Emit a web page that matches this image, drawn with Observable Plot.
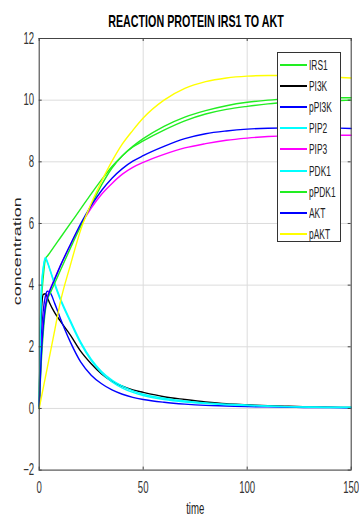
<!DOCTYPE html>
<html>
<head>
<meta charset="utf-8">
<script src="https://cdn.jsdelivr.net/npm/d3@7"></script>
<script src="https://cdn.jsdelivr.net/npm/@observablehq/plot@0.6"></script>
<style>
  html, body { margin: 0; padding: 0; background: #fff; }
  #wrap { position: relative; width: 359px; height: 518px; overflow: hidden; font-family: "Liberation Sans", Arial, sans-serif; }
  #title { position: absolute; left: 0; width: 392px; top: 13px; text-align: center; font-weight: bold; font-size: 17px; line-height: 17px; color: #000; transform: scaleX(0.63); transform-origin: 196px 0; white-space: nowrap; }
  #legend { position: absolute; left: 277px; top: 52px; width: 64px; height: 190px; background: #fff; border: 1px solid #333; box-sizing: border-box; }
  .item { position: absolute; left: 0; height: 14px; width: 62px; }
  .item .sw { position: absolute; left: 2px; top: 6px; width: 27px; height: 2px; }
  .item .lb { position: absolute; left: 31px; top: 0px; font-size: 14px; line-height: 14px; color: #222; transform: scaleX(0.6); transform-origin: 0 0; white-space: nowrap; }
</style>
</head>
<body>
<div id="wrap"><div id="chart"></div><div id="title">REACTION PROTEIN IRS1 TO AKT</div><div id="legend"></div></div>
<script>
const seriesNames = ["IRS1", "PI3K", "pPI3K", "PIP2", "PIP3", "PDK1", "pPDK1", "AKT", "pAKT"];
const seriesColors = ["#22ee22", "#000000", "#0000ff", "#00ffff", "#ff00ff", "#00ffff", "#22ee22", "#0000ff", "#ffff00"];
const time = [0, 0.5, 1, 2, 3, 4, 5, 7.5, 10, 15, 20, 25, 30, 35, 40, 45, 50, 60, 70, 80, 90, 100, 110, 120, 130, 140, 150];
const IRS1  = [0, 2.5, 3.4, 4.3, 4.85, 4.95, 5.04, 5.28, 5.52, 6.0, 6.48, 6.96, 7.42, 7.85, 8.2, 8.5, 8.75, 9.15, 9.45, 9.66, 9.82, 9.93, 10.0, 10.04, 10.06, 10.08, 10.08];
const PI3K  = [0, 2.2, 3.1, 3.7, 3.72, 3.58, 3.42, 3.1, 2.85, 2.38, 1.85, 1.45, 1.12, 0.88, 0.72, 0.6, 0.52, 0.38, 0.29, 0.21, 0.15, 0.12, 0.09, 0.07, 0.05, 0.04, 0.03];
const pPI3K = [0, 1.2, 2.2, 3.2, 3.65, 3.8, 3.78, 3.4, 2.95, 2.15, 1.5, 1.08, 0.8, 0.6, 0.46, 0.36, 0.29, 0.2, 0.14, 0.1, 0.08, 0.06, 0.05, 0.04, 0.03, 0.03, 0.02];
const PIP2  = [0, 2.5, 3.8, 4.6, 4.9, 4.75, 4.55, 4.05, 3.6, 2.85, 2.15, 1.6, 1.2, 0.92, 0.72, 0.57, 0.46, 0.33, 0.24, 0.18, 0.14, 0.11, 0.08, 0.06, 0.05, 0.04, 0.04];
const PIP3  = [0, 1.0, 1.8, 2.8, 3.35, 3.65, 3.82, 4.22, 4.6, 5.3, 5.95, 6.5, 6.95, 7.3, 7.6, 7.82, 7.98, 8.24, 8.45, 8.59, 8.7, 8.77, 8.82, 8.85, 8.86, 8.86, 8.86];
const PDK1  = [0, 2.4, 3.7, 4.55, 4.85, 4.72, 4.52, 4.0, 3.55, 2.8, 2.1, 1.55, 1.15, 0.86, 0.66, 0.52, 0.42, 0.29, 0.21, 0.16, 0.12, 0.09, 0.07, 0.05, 0.04, 0.03, 0.03];
const pPDK1 = [0, 0.8, 1.5, 2.5, 3.2, 3.55, 3.7, 4.07, 4.45, 5.2, 5.92, 6.6, 7.25, 7.8, 8.2, 8.48, 8.68, 9.03, 9.33, 9.55, 9.7, 9.8, 9.88, 9.93, 9.96, 9.98, 10.0];
const AKT   = [0, 0.9, 1.7, 2.7, 3.3, 3.6, 3.8, 4.2, 4.6, 5.32, 6.0, 6.58, 7.07, 7.47, 7.78, 8.02, 8.2, 8.5, 8.75, 8.91, 9.0, 9.06, 9.09, 9.1, 9.1, 9.1, 9.08];
const pAKT  = [0, 0.17, 0.34, 0.68, 1.02, 1.36, 1.7, 2.55, 3.4, 4.65, 5.8, 6.65, 7.37, 8.02, 8.58, 9.02, 9.42, 10.0, 10.38, 10.6, 10.72, 10.78, 10.8, 10.8, 10.78, 10.75, 10.72];
const xTicks = [0, 50, 100, 150];
const yTicks = [-2, 0, 2, 4, 6, 8, 10, 12];
const xLabel = "time";
const yLabel = "concentration";

const seriesValues = [IRS1, PI3K, pPI3K, PIP2, PIP3, PDK1, pPDK1, AKT, pAKT];
const data = seriesNames.map((name, k) => time.map((t, i) => ({name, t, v: seriesValues[k][i]})));

const W = 359, H = 518;
const mL = 38.7, mR = 8.3, mT = 38, mB = 48.4;
const innerW = W - mL - mR, innerH = H - mT - mB;

const marks = [
  Plot.ruleX(xTicks, {stroke: "#dcdcdc", strokeWidth: 1}),
  Plot.ruleY(yTicks, {stroke: "#dcdcdc", strokeWidth: 1}),
  ...data.map((d, k) => Plot.line(d, {x: "t", y: "v", stroke: seriesColors[k], strokeWidth: 1.4, curve: "monotone-x"})),
  Plot.frame({stroke: "#444", strokeWidth: 1}),
  Plot.tickY(yTicks, {y: d => d, stroke: "#444", insetRight: innerW - 3}),
  Plot.tickY(yTicks, {y: d => d, stroke: "#444", insetLeft: innerW - 3}),
  Plot.tickX(xTicks, {x: d => d, stroke: "#444", insetTop: innerH - 3}),
  Plot.tickX(xTicks, {x: d => d, stroke: "#444", insetBottom: innerH - 3}),
  Plot.axisX(xTicks, {tickSize: 0, tickPadding: 12, fontSize: 16, label: null, fill: "#333"}),
  Plot.axisY(yTicks, {tickSize: 0, tickPadding: 5, fontSize: 16, label: null, fill: "#333"}),
  Plot.text([xLabel], {frameAnchor: "bottom", dy: 39, fontSize: 16, lineAnchor: "middle", textAnchor: "middle", fill: "#222"}),
  Plot.text([yLabel], {frameAnchor: "left", dx: -22, dy: -3, rotate: -90, fontSize: 18, lineAnchor: "middle", textAnchor: "middle", fill: "#222"})
];

const chart = Plot.plot({
  width: W, height: H,
  marginLeft: mL, marginRight: mR, marginTop: mT, marginBottom: mB,
  style: {fontFamily: "'Liberation Sans', Arial, sans-serif", background: "#fff"},
  x: {domain: [0, 150], axis: null},
  y: {domain: [-2, 12], axis: null},
  marks
});
document.getElementById("chart").appendChild(chart);

// Horizontally condense all SVG text (the reference is a horizontally squeezed figure)
const SQ = 0.6;
chart.querySelectorAll("text").forEach(el => {
  let ax = 0;
  const xa = el.getAttribute("x");
  if (xa && !/em/.test(xa)) ax = parseFloat(xa) || 0;
  let px = ax;
  const tl = el.transform.baseVal;
  if (tl && tl.numberOfItems) {
    const m = tl.consolidate().matrix;
    px = m.a * ax + m.e;
  }
  const prev = el.getAttribute("transform") || "";
  el.setAttribute("transform", `translate(${px},0) scale(${SQ},1) translate(${-px},0) ${prev}`);
});

// Legend
const legend = document.getElementById("legend");
seriesNames.forEach((name, k) => {
  const it = document.createElement("div");
  it.className = "item";
  it.style.top = (5 + 21.1 * k) + "px";
  const sw = document.createElement("div");
  sw.className = "sw";
  sw.style.background = seriesColors[k];
  const lb = document.createElement("div");
  lb.className = "lb";
  lb.textContent = name;
  it.appendChild(sw); it.appendChild(lb);
  legend.appendChild(it);
});
</script>
</body>
</html>
